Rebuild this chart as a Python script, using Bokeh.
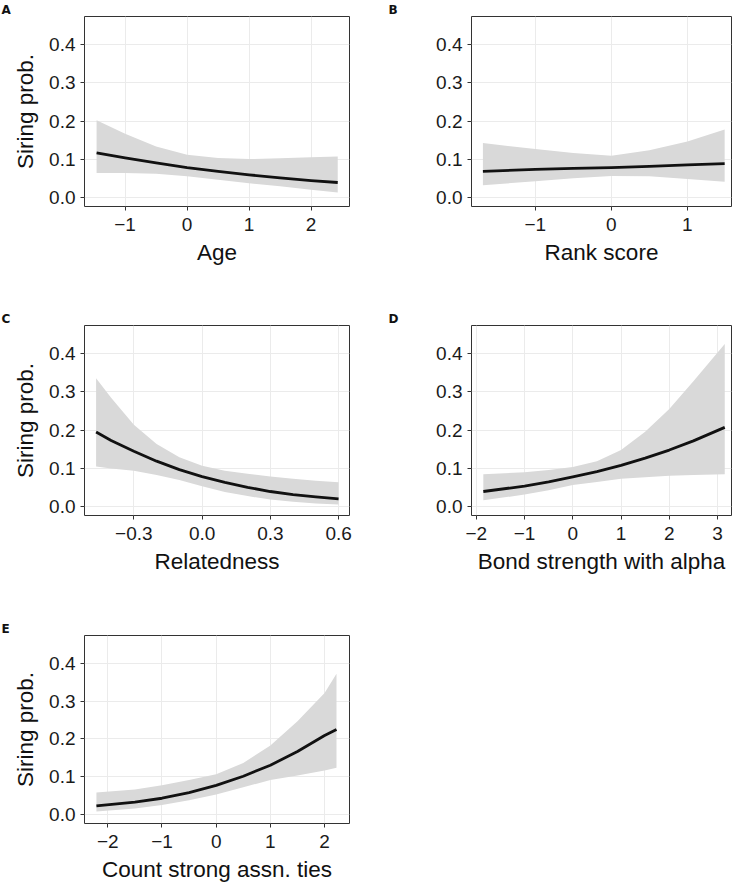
from bokeh.plotting import figure
from bokeh.models import Range1d, FixedTicker, Spacer
from bokeh.layouts import row, column
from bokeh.embed import file_html
from bokeh.resources import INLINE

# ---------------- data ----------------
y_ticks = [0.0, 0.1, 0.2, 0.3, 0.4]
y_tick_labels = ["0.0", "0.1", "0.2", "0.3", "0.4"]
y_title = "Siring prob."

# Panel A: Age
age_x = [-1.46, -1.0, -0.5, 0.0, 0.5, 1.0, 1.5, 2.0, 2.43]
age_fit = [0.117, 0.104, 0.091, 0.079, 0.069, 0.060, 0.052, 0.045, 0.040]
age_hi = [0.202, 0.167, 0.134, 0.112, 0.104, 0.101, 0.103, 0.106, 0.108]
age_lo = [0.065, 0.065, 0.063, 0.056, 0.047, 0.038, 0.030, 0.021, 0.014]
age_ticks = [-1, 0, 1, 2]
age_tick_labels = ["\u22121", "0", "1", "2"]

# Panel B: Rank score
rank_x = [-1.69, -1.0, -0.5, 0.0, 0.5, 1.0, 1.49]
rank_fit = [0.069, 0.074, 0.077, 0.079, 0.082, 0.086, 0.089]
rank_hi = [0.143, 0.127, 0.117, 0.110, 0.124, 0.147, 0.178]
rank_lo = [0.033, 0.043, 0.051, 0.057, 0.056, 0.049, 0.042]
rank_ticks = [-1, 0, 1]
rank_tick_labels = ["\u22121", "0", "1"]

# Panel C: Relatedness
rel_x = [-0.466, -0.4, -0.3, -0.2, -0.1, 0.0, 0.1, 0.2, 0.3, 0.4, 0.5, 0.6]
rel_fit = [0.195, 0.173, 0.145, 0.119, 0.097, 0.079, 0.064, 0.051, 0.040, 0.032, 0.026, 0.021]
rel_hi = [0.335, 0.284, 0.214, 0.164, 0.129, 0.107, 0.094, 0.086, 0.079, 0.073, 0.068, 0.064]
rel_lo = [0.105, 0.100, 0.094, 0.083, 0.070, 0.054, 0.039, 0.028, 0.019, 0.013, 0.009, 0.006]
rel_ticks = [-0.3, 0.0, 0.3, 0.6]
rel_tick_labels = ["\u22120.3", "0.0", "0.3", "0.6"]

# Panel D: Bond strength with alpha
bond_x = [-1.855, -1.0, -0.5, 0.0, 0.5, 1.0, 1.5, 2.0, 2.5, 3.15]
bond_fit = [0.040, 0.054, 0.065, 0.078, 0.092, 0.108, 0.127, 0.148, 0.172, 0.207]
bond_hi = [0.085, 0.090, 0.096, 0.104, 0.119, 0.148, 0.196, 0.255, 0.327, 0.424]
bond_lo = [0.017, 0.032, 0.043, 0.057, 0.065, 0.073, 0.077, 0.081, 0.083, 0.085]
bond_ticks = [-2, -1, 0, 1, 2, 3]
bond_tick_labels = ["\u22122", "\u22121", "0", "1", "2", "3"]

# Panel E: Count strong assn. ties
ties_x = [-2.21, -1.5, -1.0, -0.5, 0.0, 0.5, 1.0, 1.5, 2.0, 2.22]
ties_fit = [0.024, 0.034, 0.044, 0.059, 0.078, 0.102, 0.131, 0.167, 0.209, 0.225]
ties_hi = [0.059, 0.067, 0.078, 0.092, 0.107, 0.137, 0.183, 0.247, 0.321, 0.372]
ties_lo = [0.009, 0.017, 0.026, 0.039, 0.054, 0.073, 0.092, 0.104, 0.117, 0.124]
ties_ticks = [-2, -1, 0, 1, 2]
ties_tick_labels = ["\u22122", "\u22121", "0", "1", "2"]

# ---------------- styling ----------------
FONT = "Liberation Sans"
TICK_SIZE = "19px"
TITLE_SIZE = "22.5px"
RIBBON = "#d9d9d9"
GRID = "#ebebeb"
FRAME = "#333333"


def make_panel(xs, fit, lo, hi, xr, xticks, xlabels, xtitle, show_ytitle,
               letter, W, H, bl, br, bt, bb, lab_off):
    p = figure(width=W, height=H, x_range=Range1d(*xr),
               y_range=Range1d(-0.0225, 0.4725),
               output_backend="svg", toolbar_location=None,
               min_border_left=bl, min_border_right=br,
               min_border_top=bt, min_border_bottom=bb)
    p.background_fill_color = "white"
    p.border_fill_color = "white"
    p.outline_line_color = FRAME
    p.outline_line_width = 1

    p.varea(x=xs, y1=lo, y2=hi, fill_color=RIBBON, fill_alpha=1.0)
    p.line(x=xs, y=fit, line_color="#111111", line_width=2.8, line_join="round")

    p.xaxis.ticker = FixedTicker(ticks=xticks)
    p.xaxis.major_label_overrides = {t: l for t, l in zip(xticks, xlabels)}
    p.yaxis.ticker = FixedTicker(ticks=y_ticks)
    p.yaxis.major_label_overrides = {t: l for t, l in zip(y_ticks, y_tick_labels)}
    p.xgrid.ticker = FixedTicker(ticks=xticks)
    p.ygrid.ticker = FixedTicker(ticks=y_ticks)
    for g in (p.xgrid, p.ygrid):
        g.grid_line_color = GRID
        g.grid_line_width = 1

    for ax in (p.xaxis, p.yaxis):
        ax.axis_line_color = None
        ax.major_tick_line_color = FRAME
        ax.major_tick_out = 4
        ax.major_tick_in = 0
        ax.minor_tick_line_color = None
        ax.major_label_text_font = FONT
        ax.major_label_text_font_size = TICK_SIZE
        ax.major_label_text_color = "#1a1a1a"
        ax.axis_label_text_font = FONT
        ax.axis_label_text_font_size = TITLE_SIZE
        ax.axis_label_text_font_style = "normal"
        ax.axis_label_text_color = "#111111"
    p.xaxis.major_label_standoff = 7
    p.yaxis.major_label_standoff = 5
    p.xaxis.axis_label = xtitle
    p.xaxis.axis_label_standoff = 6
    if show_ytitle:
        p.yaxis.axis_label = y_title
        p.yaxis.axis_label_standoff = 8

    # panel letter as a left-aligned title pulled out to the figure's left edge
    p.title.text = letter
    p.title.align = "left"
    p.title.offset = lab_off
    p.title.standoff = 0
    p.title.text_font = "DejaVu Sans"
    p.title.text_font_style = "bold"
    p.title.text_font_size = "12px"
    p.title.text_color = "#111111"
    return p


W = 368
H1, H2, H3 = 306, 300, 278

pA = make_panel(age_x, age_fit, age_lo, age_hi, (-1.655, 2.62), age_ticks, age_tick_labels,
                "Age", True, "A", W, H1, 84, 19, 16, H1 - 16 - 190, -83)
pB = make_panel(rank_x, rank_fit, rank_lo, rank_hi, (-1.84, 1.58), rank_ticks, rank_tick_labels,
                "Rank score", False, "B", W, H1, 103, 5, 16, H1 - 16 - 190, -83)
pC = make_panel(rel_x, rel_fit, rel_lo, rel_hi, (-0.517, 0.648), rel_ticks, rel_tick_labels,
                "Relatedness", True, "C", W, H2, 84, 19, 19, H2 - 19 - 190, -83)
pD = make_panel(bond_x, bond_fit, bond_lo, bond_hi, (-2.10, 3.29), bond_ticks, bond_tick_labels,
                "Bond strength with alpha", False, "D", W, H2, 103, 5, 19, H2 - 19 - 190, -83)
pE = make_panel(ties_x, ties_fit, ties_lo, ties_hi, (-2.43, 2.46), ties_ticks, ties_tick_labels,
                "Count strong assn. ties", True, "E", W, H3, 84, 19, 29, H3 - 29 - 190, -83)

layout = column(row(pA, pB), row(pC, pD), row(pE, Spacer(width=W, height=H3)))

open("out.html", "w").write(file_html(layout, INLINE))
